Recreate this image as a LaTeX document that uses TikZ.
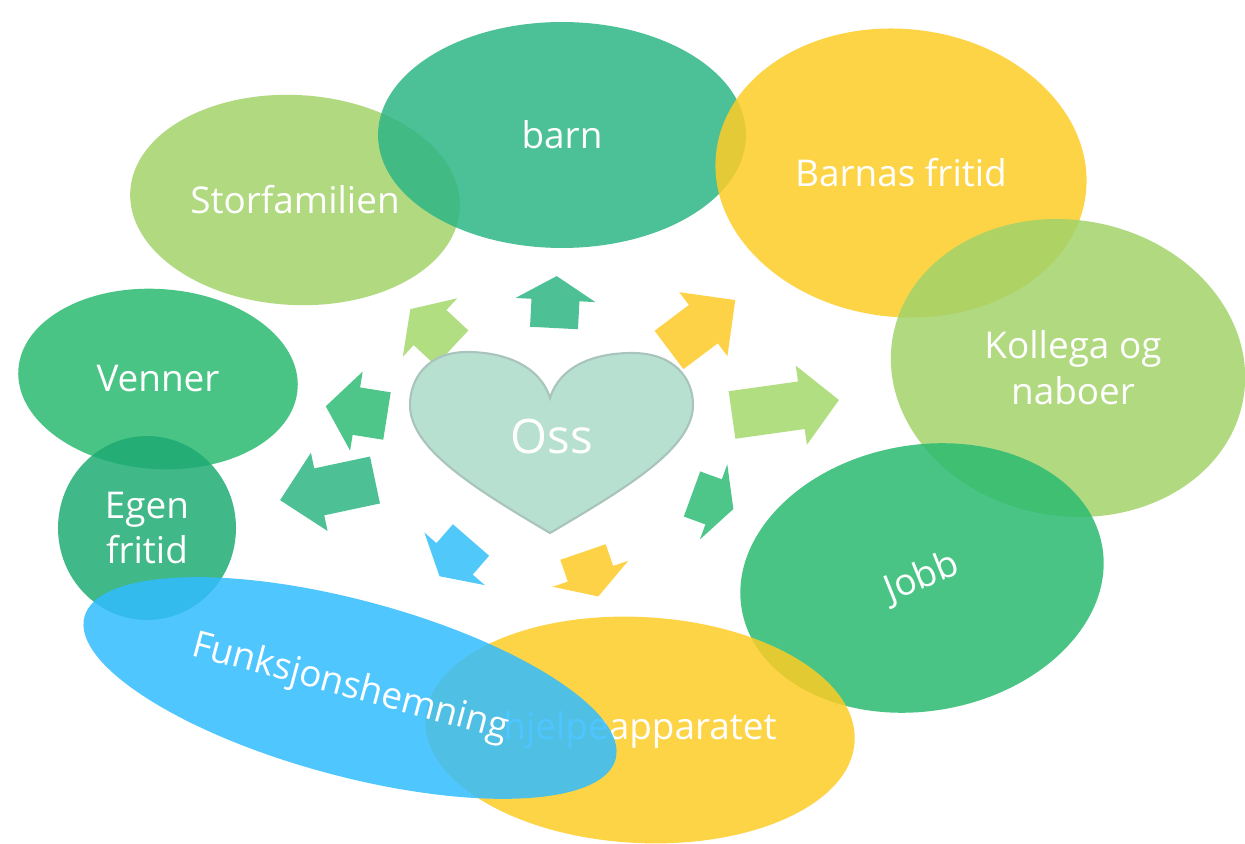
\documentclass[tikz,border=0pt]{standalone}
\usepackage{fontspec}
\setmainfont{Open Sans}
\usetikzlibrary{shapes.geometric}

\definecolor{tealgreen}{RGB}{45,181,132}
\definecolor{leafgreen}{RGB}{162,210,106}
\definecolor{sunyellow}{RGB}{253,204,37}
\definecolor{grassgreen}{RGB}{42,186,112}
\definecolor{deepteal}{RGB}{30,171,115}
\definecolor{skyblue}{RGB}{49,188,255}
% arrow colours (solid)
\definecolor{arrteal}{RGB}{77,192,150}
\definecolor{arrleaf}{RGB}{178,222,130}
\definecolor{arryellow}{RGB}{253,210,70}
\definecolor{arrgreen}{RGB}{78,198,138}
\definecolor{arrblue}{RGB}{80,200,250}
\definecolor{heartfill}{RGB}{184,224,209}
\definecolor{heartline}{RGB}{168,196,188}

% block arrow: tail (x,y), angle, length, head length, colour
\newcommand\radarrow[6]{%
  \begin{scope}[shift={(#1,#2)}, rotate=#3]
    \fill[#6] (0,-24) -- ({#4-#5},-24) -- ({#4-#5},-40) -- (#4,0)
      -- ({#4-#5},40) -- ({#4-#5},24) -- (0,24) -- cycle;
  \end{scope}}

\begin{document}
\begin{tikzpicture}[x=0.02cm, y=-0.02cm,
    bubble/.style = {ellipse, inner sep=0pt, text=white, align=center,
                     font=\fontsize{21}{26}\selectfont,
                     fill opacity=0.85, text opacity=1},
     label/.style = {text=white, align=center, font=\fontsize{21}{26}\selectfont}
                    ]
\useasboundingbox (0,0) rectangle (1245,844);
% outer ring
\node [bubble, fill=leafgreen, minimum width=6.6cm, minimum height=4.2cm, rotate=-3]
      (storfam) at (295,200) {};
\node [label] at (storfam) {Storfamilien};
\node [bubble, fill=tealgreen, minimum width=7.36cm, minimum height=4.52cm]
      (barn) at (562,135) {barn};
\node [bubble, fill=sunyellow, minimum width=7.44cm, minimum height=5.76cm, rotate=-6]
      (fritid) at (901,173) {};
\node [label] at (fritid) {Barnas fritid};
\node [bubble, fill=leafgreen, minimum width=7.12cm, minimum height=5.92cm, rotate=-10]
      (kollega) at (1068,368) {};
\node [label] at (1073,368) {Kollega og\\naboer};
\node [bubble, fill=grassgreen, minimum width=7.32cm, minimum height=5.32cm, rotate=10]
      (jobb) at (922,578) {};
\node [label, rotate=22] at (jobb) {Jobb};
\node [bubble, fill=grassgreen, minimum width=5.6cm, minimum height=3.6cm, rotate=-4]
      (venner) at (158,379) {};
\node [label] at (venner) {Venner};
\node [bubble, fill=deepteal, minimum width=3.56cm, minimum height=3.68cm]
      (egen) at (147,528) {Egen\\fritid};
\node [bubble, fill=sunyellow, minimum width=8.6cm, minimum height=4.52cm, rotate=-3]
      (hjelpe) at (640,730) {};
\node [label] at (hjelpe) {hjelpeapparatet};
\node [bubble, fill=skyblue, minimum width=11cm, minimum height=3.52cm, rotate=-15]
      (funksjon) at (350,688) {Funksjonshemning};
% arrows round the heart
\radarrow{554}{328}{87}{52}{24}{arrteal}
\radarrow{452}{348}{137}{57}{27}{arrleaf}
\radarrow{669}{350}{37}{83}{40}{arryellow}
\radarrow{732}{415}{8}{108}{38}{arrleaf}
\radarrow{692}{494}{-20}{44}{21}{arrgreen}
\radarrow{583}{552}{-71}{47}{24}{arryellow}
\radarrow{471}{540}{-131}{48}{23}{arrblue}
\radarrow{375}{480}{192}{97}{40}{arrteal}
\radarrow{387}{416}{171}{62}{31}{arrgreen}
% heart
\draw [fill=heartfill, draw=heartline, line width=1.2pt]
  (550,398) .. controls (540,366) and (505,352) .. (467,352)
  .. controls (428,352) and (410,378) .. (410,405)
  .. controls (410,448) and (472,487) .. (550,533)
  .. controls (628,487) and (693,448) .. (693,405)
  .. controls (693,378) and (674,353) .. (632,353)
  .. controls (594,353) and (560,366) .. (550,398) -- cycle;
\node [text=white, font=\fontsize{27}{32}\selectfont] (oss) at (552,437) {Oss};
\end{tikzpicture}
\end{document}
